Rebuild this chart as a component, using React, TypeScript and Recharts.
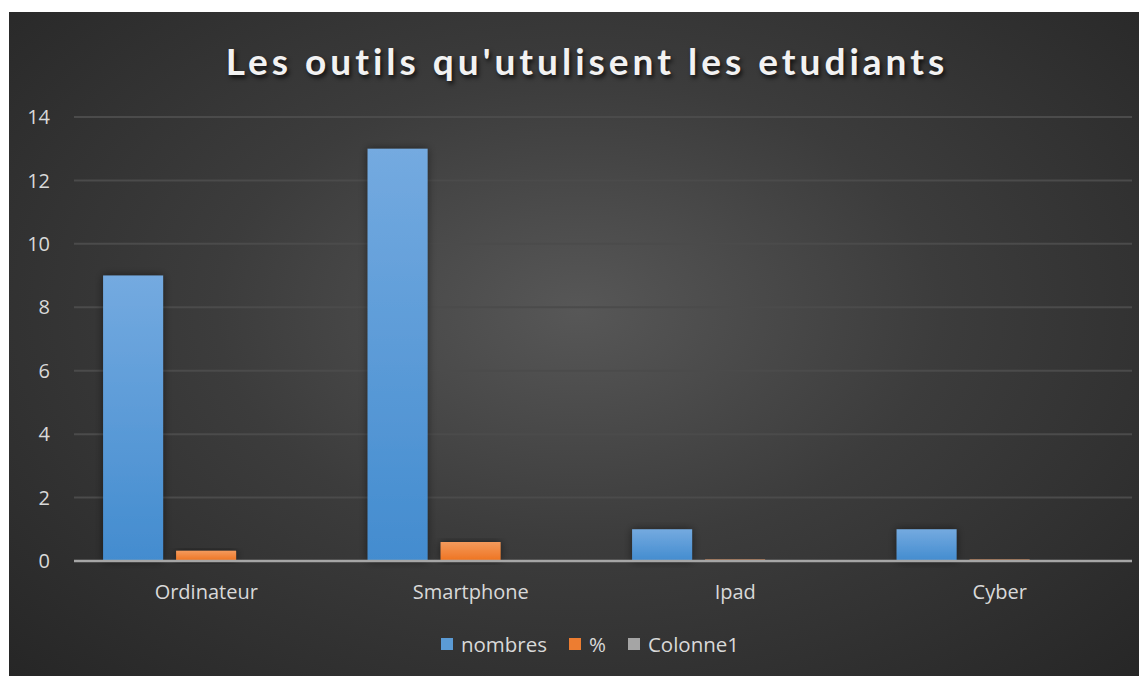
import { BarChart, Bar, XAxis, YAxis, CartesianGrid, Legend } from "recharts"

const categories = ["Ordinateur", "Smartphone", "Ipad", "Cyber"]
const nombres = [9, 13, 1, 1]
const pourcent = [0.32, 0.6, 0.05, 0.05]
const colonne1 = [0, 0, 0, 0]
const yTicks = [0, 2, 4, 6, 8, 10, 12, 14]

const seriesNames = ["nombres", "%", "Colonne1"]
const seriesColors = ["#5b9bd5", "#ed7d31", "#a5a5a5"]

const data = categories.map((name, i) => ({
  name,
  nombres: nombres[i],
  "%": pourcent[i],
  Colonne1: colonne1[i],
}))

const titleFont = "Lato, sans-serif"
const font = "'Open Sans', sans-serif"

function LegendContent() {
  return (
    <div style={{ display: "flex", justifyContent: "center", gap: 22, fontFamily: font, fontSize: 20.5, color: "#d9d9d9", paddingLeft: 39 }}>
      {seriesNames.map((s, i) => (
        <span key={s} style={{ display: "flex", alignItems: "center" }}>
          <span style={{ width: 12, height: 12, background: seriesColors[i], marginRight: 8, display: "inline-block" }} />
          {s}
        </span>
      ))}
    </div>
  )
}

export default function App() {
  return (
    <div
      style={{
        position: "relative",
        width: 1138,
        height: 664,
        marginLeft: 1,
        marginTop: 4,
        background: "radial-gradient(ellipse at 50% 45%, #575757 0%, #3c3c3c 45%, #262626 100%)",
      }}
    >
      <div
        style={{
          position: "absolute",
          top: 26,
          left: 9,
          width: 1138,
          textAlign: "center",
          color: "#f2f2f2",
          fontSize: 37,
          fontWeight: 700,
          letterSpacing: 4,
          textShadow: "2px 3px 4px rgba(0,0,0,0.7)",
          fontFamily: titleFont,
        }}
      >
        Les outils qu'utulisent les etudiants
      </div>
      <BarChart
        width={1138}
        height={664}
        data={data}
        margin={{ top: 105, right: 15, left: 0, bottom: 27 }}
        barCategoryGap="11%"
        barGap={13}
        style={{ position: "absolute", top: 0, left: 0 }}
      >
        <defs>
          <linearGradient id="gBlue" x1="0" y1="0" x2="0" y2="1">
            <stop offset="0%" stopColor="#74aae0" />
            <stop offset="100%" stopColor="#438ccf" />
          </linearGradient>
          <linearGradient id="gOrange" x1="0" y1="0" x2="0" y2="1">
            <stop offset="0%" stopColor="#f49a5c" />
            <stop offset="100%" stopColor="#ee7320" />
          </linearGradient>
          <linearGradient id="gGray" x1="0" y1="0" x2="0" y2="1">
            <stop offset="0%" stopColor="#b5b5b5" />
            <stop offset="100%" stopColor="#969696" />
          </linearGradient>
          <filter id="shadow" x="-20%" y="-20%" width="140%" height="140%">
            <feDropShadow dx="0" dy="0" stdDeviation="4" floodColor="#000" floodOpacity="0.5" />
          </filter>
        </defs>
        <CartesianGrid vertical={false} stroke="#4b4b4b" strokeWidth={2} />
        <XAxis
          dataKey="name"
          axisLine={{ stroke: "#a6a6a6", strokeWidth: 2.5 }}
          tickLine={false}
          tickSize={0}
          tickMargin={24}
          height={60}
          tick={{ fill: "#d9d9d9", fontSize: 20, fontFamily: font }}
        />
        <YAxis
          domain={[0, 14]}
          ticks={yTicks}
          axisLine={false}
          tickLine={false}
          tickSize={0}
          tickMargin={24}
          width={65}
          tick={{ fill: "#d9d9d9", fontSize: 20, fontFamily: font }}
        />
        <Legend verticalAlign="bottom" content={<LegendContent />} wrapperStyle={{ bottom: 18 }} />
        <Bar dataKey="nombres" fill="url(#gBlue)" isAnimationActive={false} style={{ filter: "url(#shadow)" }} />
        <Bar dataKey="%" fill="url(#gOrange)" isAnimationActive={false} style={{ filter: "url(#shadow)" }} />
        <Bar dataKey="Colonne1" fill="url(#gGray)" isAnimationActive={false} />
      </BarChart>
    </div>
  )
}
